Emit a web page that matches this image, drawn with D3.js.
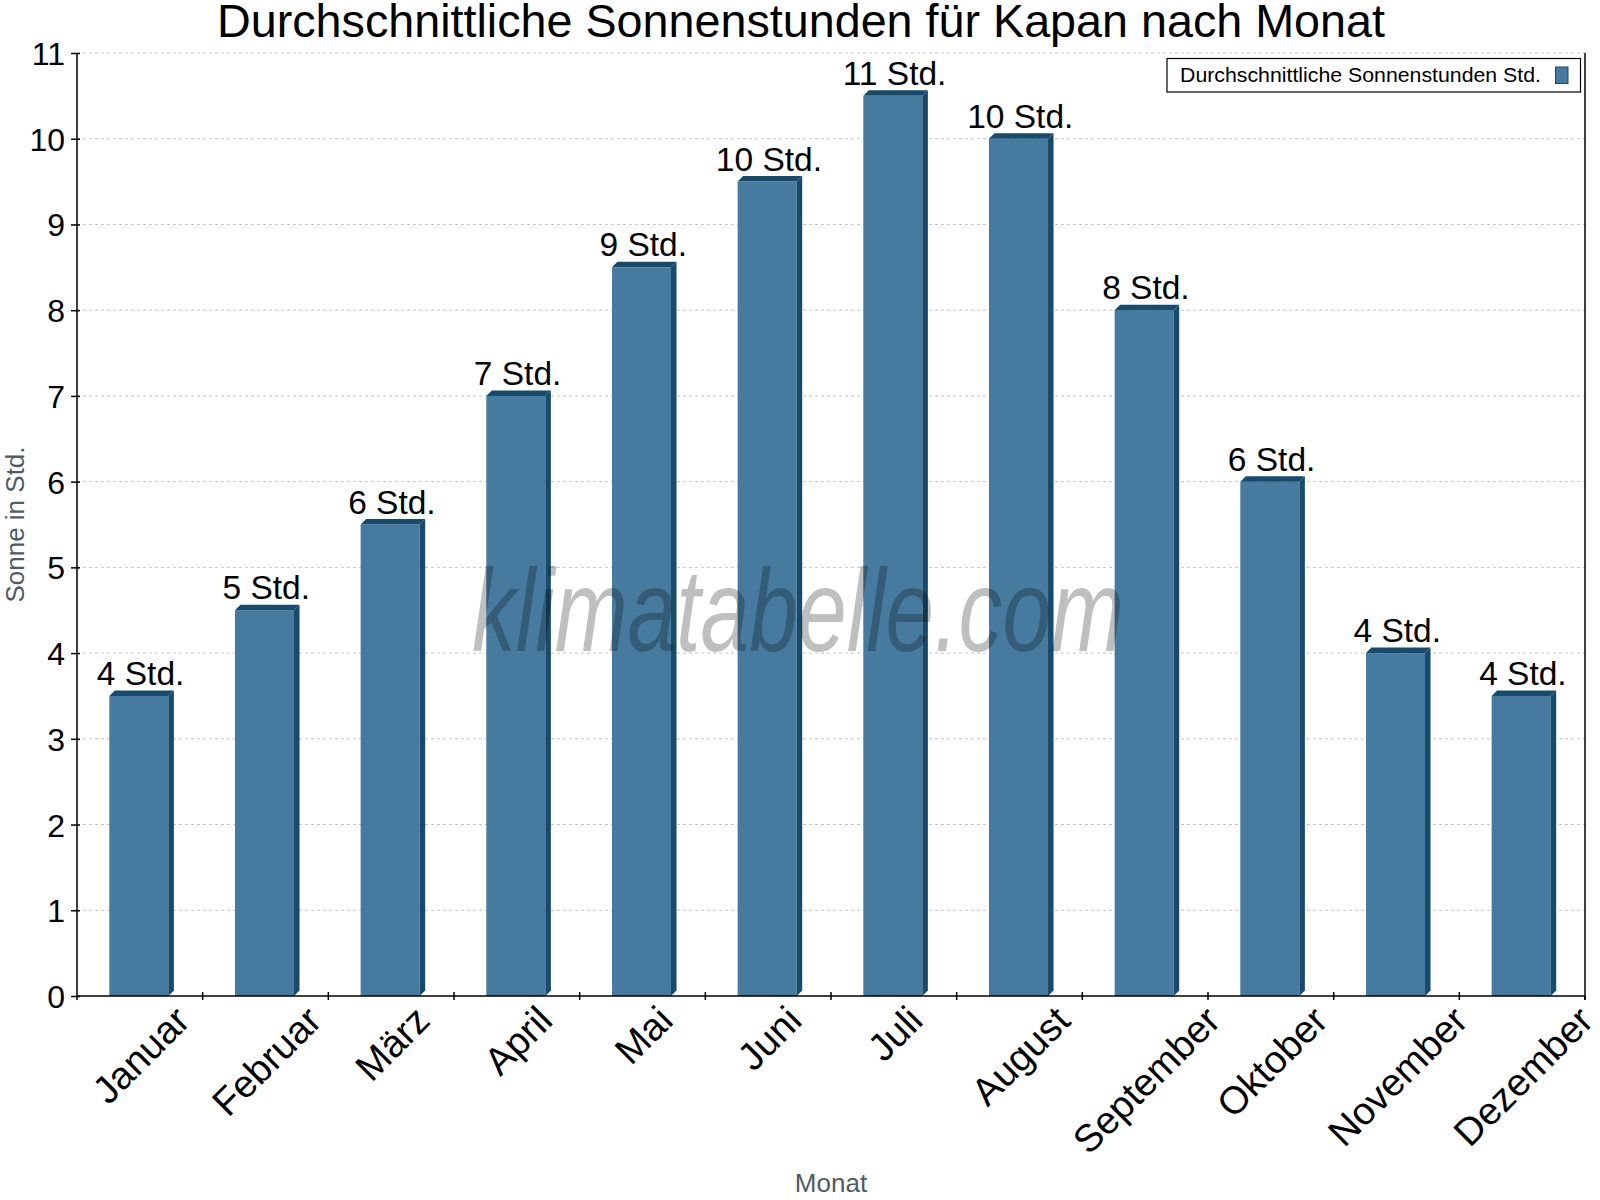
<!DOCTYPE html>
<html>
<head>
<meta charset="utf-8">
<script src="https://cdn.jsdelivr.net/npm/d3@7/dist/d3.min.js"></script>
<style>
  html, body { margin: 0; padding: 0; background: #fff; }
  svg { display: block; }
  text { font-family: "Liberation Sans", Arial, sans-serif; }
</style>
</head>
<body>
<svg id="chart" width="1600" height="1200"></svg>
<script>
const months = ["Januar","Februar","März","April","Mai","Juni","Juli","August","September","Oktober","November","Dezember"];
const sunHours = [3.5, 4.5, 5.5, 7, 8.5, 9.5, 10.5, 10, 8, 6, 4, 3.5];
const valueLabels = ["4 Std.","5 Std.","6 Std.","7 Std.","9 Std.","10 Std.","11 Std.","10 Std.","8 Std.","6 Std.","4 Std.","4 Std."];
const yTicks = [0,1,2,3,4,5,6,7,8,9,10,11];
const titleText = "Durchschnittliche Sonnenstunden für Kapan nach Monat";
const seriesName = "Durchschnittliche Sonnenstunden Std.";
const yTitle = "Sonne in Std.";
const xTitle = "Monat";
const watermark = "klimatabelle.com";

const svg = d3.select("#chart");
const pLeft = 77, pRight = 1585, pTop = 53, pBottom = 996;
const frontColor = "#467b9f", darkColor = "#184a6b";

const x = d3.scaleBand().domain(months).range([pLeft, pRight]).padding(0);
const y = d3.scaleLinear().domain([0, 11]).range([pBottom, pTop]);
const bw = x.bandwidth();
const depth = 5.5;

// grid
svg.append("g").selectAll("line").data(yTicks.filter(d => d > 0)).join("line")
  .attr("x1", pLeft).attr("x2", pRight)
  .attr("y1", d => y(d)).attr("y2", d => y(d))
  .attr("stroke", "#c4c4c4").attr("stroke-width", 1).attr("stroke-dasharray", "3,3");

// bars
const bars = svg.append("g").selectAll("g").data(months.map((m, i) => ({m, v: sunHours[i], l: valueLabels[i]}))).join("g");
const fx0 = d => x(d.m) + bw * 0.257;
const fx1 = d => x(d.m) + bw * 0.727;
bars.append("rect")
  .attr("x", fx0).attr("y", d => y(d.v))
  .attr("width", d => fx1(d) - fx0(d)).attr("height", d => y(0) - y(d.v))
  .attr("fill", frontColor);
bars.append("path")
  .attr("d", d => `M${fx1(d)},${y(d.v)} L${fx1(d)+depth},${y(d.v)-depth} L${fx1(d)+depth},${y(0)-depth} L${fx1(d)},${y(0)} Z`)
  .attr("fill", darkColor);
bars.append("path")
  .attr("d", d => `M${fx0(d)},${y(d.v)} L${fx0(d)+depth},${y(d.v)-depth} L${fx1(d)+depth},${y(d.v)-depth} L${fx1(d)},${y(d.v)} Z`)
  .attr("fill", darkColor);
bars.append("text")
  .attr("x", d => (fx0(d) + fx1(d) + depth) / 2 - 1)
  .attr("y", d => y(d.v) - 11)
  .attr("text-anchor", "middle")
  .attr("font-size", 33.5).attr("fill", "#000")
  .text(d => d.l);

// y axis
const yAxis = svg.append("g").attr("transform", `translate(${pLeft},0)`)
  .call(d3.axisLeft(y).tickValues(yTicks).tickSize(6).tickPadding(6).tickFormat(d3.format("d")));
yAxis.select(".domain").attr("stroke", "#000").attr("stroke-width", 1.5).attr("d", `M0,${pBottom}V${pTop}`);
yAxis.selectAll(".tick line").attr("x1", 3).attr("x2", -6).attr("stroke", "#000").attr("stroke-width", 1.5);
yAxis.selectAll(".tick text").attr("font-size", 32).attr("fill", "#000")
  .attr("font-family", '"Liberation Sans", Arial, sans-serif').attr("dy", "0.36em");

// right border
svg.append("line").attr("x1", pRight).attr("x2", pRight).attr("y1", pTop).attr("y2", pBottom + 4)
  .attr("stroke", "#000").attr("stroke-width", 1.5);

// x axis
svg.append("line").attr("x1", pLeft).attr("x2", pRight).attr("y1", pBottom).attr("y2", pBottom)
  .attr("stroke", "#000").attr("stroke-width", 1.5);
const edges = months.map(m => x(m)).concat([pRight]);
svg.append("g").selectAll("line").data(edges).join("line")
  .attr("x1", d => d).attr("x2", d => d)
  .attr("y1", (d, i) => (i === 0 || i === edges.length - 1) ? pBottom : pBottom - 4)
  .attr("y2", pBottom + 4)
  .attr("stroke", "#000").attr("stroke-width", 1.5);
// rotated labels: rotated box centred under the band, top just below the axis
const xl = svg.append("g").selectAll("g").data(months).join("g");
xl.append("text")
  .attr("transform", "rotate(-45)")
  .attr("font-size", 38.5).attr("fill", "#000")
  .text(d => d);
xl.each(function(d) {
  const bb = this.getBBox();
  const tx = x(d) + bw / 2 + 1 - (bb.x + bb.width / 2);
  const ty = pBottom + 2 - bb.y;
  d3.select(this).attr("transform", `translate(${tx},${ty})`);
});

// axis titles
svg.append("text")
  .attr("transform", `translate(24,${(pTop + pBottom) / 2}) rotate(-90)`)
  .attr("text-anchor", "middle").attr("font-size", 26).attr("fill", "#4f5a65")
  .text(yTitle);
svg.append("text")
  .attr("x", (pLeft + pRight) / 2).attr("y", 1192)
  .attr("text-anchor", "middle").attr("font-size", 26).attr("fill", "#4f5a65")
  .text(xTitle);

// title
svg.append("text")
  .attr("x", 801).attr("y", 37)
  .attr("text-anchor", "middle").attr("font-size", 46.7).attr("fill", "#000")
  .text(titleText);

// legend
const lg = svg.append("g");
lg.append("rect").attr("x", 1167).attr("y", 58.5).attr("width", 413.5).attr("height", 33.5)
  .attr("fill", "#fff").attr("stroke", "#000").attr("stroke-width", 1.2);
lg.append("text").attr("x", 1180).attr("y", 82).attr("font-size", 21).attr("fill", "#000")
  .attr("textLength", 361).attr("lengthAdjust", "spacingAndGlyphs")
  .text(seriesName);
lg.append("rect").attr("x", 1555.5).attr("y", 67).attr("width", 12.5).attr("height", 16.5)
  .attr("fill", frontColor).attr("stroke", darkColor).attr("stroke-width", 1);

// watermark
svg.append("text")
  .attr("x", 798).attr("y", 651)
  .attr("text-anchor", "middle")
  .attr("font-family", "Roboto, sans-serif")
  .attr("font-weight", 300).attr("font-style", "italic")
  .attr("font-size", 116).attr("fill", "rgba(0,0,0,0.25)")
  .attr("textLength", 652).attr("lengthAdjust", "spacingAndGlyphs")
  .text(watermark);
</script>
</body>
</html>
